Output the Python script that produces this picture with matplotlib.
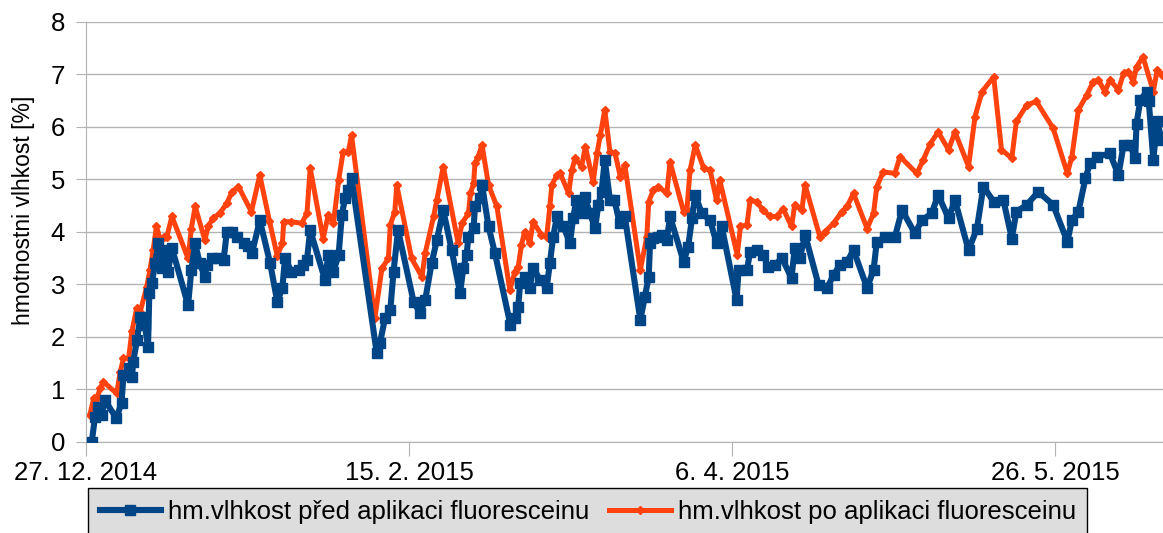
import numpy as np
import matplotlib.pyplot as plt
import matplotlib.dates as mdates
from datetime import datetime

plt.rcParams['font.family'] = ['Liberation Sans', 'DejaVu Sans']

# measurement days counted from 27. 12. 2014
start = datetime(2014, 12, 27)

days_pred = [0.9, 1.4, 1.9, 2.4, 2.9, 4.7, 5.5, 5.8, 6.6, 7.1, 7.3, 7.9, 8.4, 9.1, 9.6, 9.8,
             10.2, 10.7, 11.2, 11.7, 12.2, 12.7, 13.3, 15.8, 16.3, 16.9, 17.6, 18.4, 18.7, 19.5,
             20.5, 21.3, 21.8, 22.6, 23.3, 24.4, 25.1, 25.7, 26.9, 28.5, 29.6, 30.4, 30.8, 31.8,
             32.9, 33.6, 34.2, 34.7, 37.0, 37.5, 38.3, 39.1, 39.6, 40.1, 40.6, 41.1, 45.0, 45.5,
             46.3, 47.1, 47.6, 48.3, 50.7, 51.7, 52.5, 53.5, 54.3, 55.3, 56.6, 57.9, 58.4, 58.9,
             59.2, 60.0, 60.2, 61.0, 61.3, 62.3, 63.3, 65.7, 66.4, 66.9, 67.2, 67.9, 68.7, 69.2,
             70.3, 71.3, 71.8, 72.3, 72.9, 73.9, 74.9, 75.4, 75.9, 76.7, 77.2, 78.0, 78.8, 79.3,
             79.8, 80.3, 81.1, 81.8, 82.6, 83.4, 85.8, 86.5, 87.1, 87.3, 87.8, 88.6, 89.1, 89.9,
             90.4, 92.5, 93.2, 93.8, 94.3, 95.3, 96.6, 97.6, 98.4, 100.7, 101.0, 102.3, 102.8,
             103.8, 104.8, 105.6, 106.7, 107.7, 109.2, 109.7, 110.5, 111.3, 113.4, 114.7, 115.7,
             116.7, 117.8, 118.8, 120.9, 121.9, 122.4, 123.7, 125.2, 126.3, 128.3, 129.4, 130.9,
             131.9, 133.5, 134.5, 136.6, 137.9, 138.9, 140.5, 142.0, 143.3, 144.0, 145.6, 147.4,
             149.7, 151.9, 152.6, 153.6, 154.7, 155.4, 156.5, 158.5, 159.8, 160.6, 161.6, 162.4,
             162.6, 163.2, 164.2, 164.5, 165.2, 165.8, 166.5]
vlh_pred = [0.00, 0.48, 0.67, 0.51, 0.79, 0.45, 0.74, 1.27, 1.40, 1.24, 1.52, 1.94, 2.38, 2.22,
            1.81, 2.83, 3.02, 3.40, 3.78, 3.31, 3.65, 3.24, 3.69, 2.60, 3.27, 3.78, 3.40, 3.14,
            3.37, 3.50, 3.50, 3.46, 4.00, 4.00, 3.90, 3.78, 3.72, 3.59, 4.22, 3.40, 2.67, 2.93,
            3.50, 3.24, 3.27, 3.37, 3.46, 4.03, 3.08, 3.56, 3.24, 3.56, 4.32, 4.64, 4.79, 5.02,
            1.69, 1.88, 2.36, 2.51, 3.24, 4.03, 2.67, 2.45, 2.70, 3.40, 3.84, 4.41, 3.65, 2.83,
            3.31, 3.56, 3.90, 4.07, 4.48, 4.64, 4.89, 4.10, 3.59, 2.22, 2.36, 2.57, 3.02, 3.14,
            2.93, 3.31, 3.08, 2.93, 3.40, 3.90, 4.29, 4.10, 3.78, 4.26, 4.60, 4.35, 4.67, 4.35,
            4.07, 4.51, 4.76, 5.37, 4.60, 4.60, 4.16, 4.29, 2.32, 2.76, 3.14, 3.78, 3.88, 3.90,
            3.94, 3.84, 4.29, 3.43, 3.71, 4.26, 4.70, 4.35, 4.22, 3.78, 4.10, 2.70, 3.27, 3.27,
            3.62, 3.65, 3.56, 3.33, 3.37, 3.50, 3.12, 3.69, 3.50, 3.94, 2.98, 2.93, 3.17, 3.37,
            3.43, 3.65, 2.93, 3.27, 3.81, 3.90, 3.90, 4.41, 3.97, 4.22, 4.35, 4.70, 4.26, 4.60,
            3.65, 4.06, 4.86, 4.57, 4.60, 3.87, 4.38, 4.51, 4.76, 4.51, 3.81, 4.22, 4.38, 5.02,
            5.30, 5.43, 5.49, 5.08, 5.65, 5.65, 5.40, 6.06, 6.51, 6.67, 6.48, 5.37, 6.10, 5.75]

days_po = [0.6, 1.2, 1.7, 2.2, 2.7, 4.75, 5.3, 5.8, 6.6, 7.1, 7.85, 8.4, 9.4, 9.9, 10.4, 10.9,
           11.5, 12.0, 12.5, 13.3, 15.8, 16.3, 16.9, 18.4, 18.9, 19.7, 20.7, 21.8, 22.6, 23.6,
           25.6, 26.9, 28.4, 29.6, 30.4, 30.6, 31.8, 33.4, 34.2, 34.7, 36.7, 37.5, 38.3, 39.1,
           39.8, 40.6, 41.1, 44.7, 45.8, 46.8, 47.1, 47.8, 48.1, 50.4, 52.0, 52.5, 53.8, 54.3,
           55.3, 57.6, 58.2, 59.2, 59.5, 60.0, 60.2, 60.7, 61.3, 62.3, 63.6, 65.6, 66.4, 66.9,
           67.4, 67.9, 68.7, 69.2, 70.5, 71.3, 71.8, 72.1, 72.9, 73.4, 74.7, 75.2, 75.7, 76.7,
           77.3, 78.5, 79.1, 79.6, 80.3, 81.1, 81.9, 82.7, 83.4, 85.8, 86.8, 87.1, 87.8, 88.6,
           89.9, 90.4, 92.5, 93.0, 93.5, 94.3, 95.6, 96.6, 97.6, 98.1, 100.8, 101.3, 102.3,
           102.8, 103.8, 104.8, 105.9, 106.9, 107.9, 109.2, 109.7, 110.8, 111.3, 113.6, 114.4,
           115.7, 117.0, 117.8, 118.8, 120.9, 121.9, 122.4, 123.4, 125.2, 126.0, 128.6, 129.6,
           130.7, 131.9, 133.5, 134.5, 136.6, 137.6, 138.7, 140.5, 141.7, 143.3, 144.0, 145.6,
           147.1, 149.7, 151.9, 152.6, 153.6, 154.9, 155.9, 156.7, 157.7, 158.5, 159.8, 160.6,
           161.3, 162.1, 162.6, 163.6, 165.2, 165.8, 166.5]
vlh_po = [0.51, 0.83, 0.83, 1.02, 1.14, 0.92, 1.33, 1.59, 1.59, 2.10, 2.54, 2.48, 2.95, 3.27,
          3.65, 4.10, 3.84, 3.90, 3.90, 4.29, 3.49, 4.06, 4.48, 3.84, 4.10, 4.26, 4.35, 4.54,
          4.76, 4.86, 4.38, 5.08, 4.20, 3.54, 3.78, 4.19, 4.19, 4.16, 4.35, 5.21, 3.87, 4.32,
          4.16, 4.98, 5.52, 5.52, 5.84, 2.35, 3.30, 3.49, 4.13, 4.38, 4.89, 3.49, 3.14, 3.59,
          4.29, 4.60, 5.24, 3.78, 4.16, 4.35, 4.73, 4.92, 5.30, 5.43, 5.65, 4.89, 4.48, 2.89,
          3.24, 3.33, 3.75, 4.00, 3.78, 4.19, 3.94, 3.90, 4.48, 4.89, 5.08, 5.11, 4.73, 5.17,
          5.40, 5.24, 5.62, 4.95, 5.49, 5.84, 6.32, 5.52, 5.49, 5.05, 5.27, 3.27, 3.90, 4.57,
          4.79, 4.86, 4.73, 5.33, 4.38, 4.41, 5.17, 5.65, 5.21, 5.17, 4.60, 4.98, 3.56, 4.10,
          4.13, 4.60, 4.57, 4.41, 4.29, 4.29, 4.44, 4.10, 4.51, 4.41, 4.89, 3.90, 4.00, 4.16,
          4.38, 4.48, 4.73, 4.06, 4.35, 4.86, 5.14, 5.11, 5.43, 5.11, 5.37, 5.68, 5.90, 5.56,
          5.90, 5.24, 6.19, 6.67, 6.95, 5.56, 5.40, 6.10, 6.41, 6.48, 5.97, 5.11, 5.43, 6.32,
          6.60, 6.86, 6.89, 6.67, 6.89, 6.70, 7.02, 7.05, 6.86, 7.14, 7.33, 6.67, 7.08, 6.98]

tick_dates = ['2014-12-27', '2015-02-15', '2015-04-06', '2015-05-26']
tick_labels = ['27. 12. 2014', '15. 2. 2015', '6. 4. 2015', '26. 5. 2015']

x0 = mdates.date2num(start)
W, H = 1163, 533

fig = plt.figure(figsize=(W / 100, H / 100), dpi=100)
ax = fig.add_axes([86 / W, 1 - 441.7 / H, (W - 86) / W, (441.7 - 21.7) / H])

ax.plot(x0 + np.array(days_pred), vlh_pred, color='#004586', lw=4.4, marker='s', ms=7.5,
        label='hm.vlhkost před aplikaci fluoresceinu', zorder=3)
ax.plot(x0 + np.array(days_po), vlh_po, color='#ff420e', lw=3.6, marker='D', ms=4.5,
        label='hm.vlhkost po aplikaci fluoresceinu', zorder=2)

ax.set_xlim(x0, x0 + 166.7)
ax.set_ylim(0, 8)
ax.set_yticks(range(0, 9))
ax.set_xticks([mdates.date2num(datetime.strptime(d, '%Y-%m-%d')) for d in tick_dates])
ax.set_xticklabels(tick_labels)

ax.grid(axis='y', color='#b3b3b3', lw=1)
ax.set_axisbelow(True)
for side in ['top', 'right']:
    ax.spines[side].set_visible(False)
for side in ['left', 'bottom']:
    ax.spines[side].set_color('#b3b3b3')
ax.tick_params(axis='x', length=10, color='#b3b3b3', labelsize=18.5, pad=4)
ax.tick_params(axis='y', length=7, color='#b3b3b3', labelsize=18.5, pad=8)
ax.set_ylabel('hmotnostni vlhkost [%]', fontsize=16.5)
ax.yaxis.set_label_coords(-0.047, 0.55)

fig.legend(loc='upper left', bbox_to_anchor=(88 / W, 1 - 488 / H), ncol=2,
           frameon=True, fancybox=False, edgecolor='black', facecolor='#dddddd',
           framealpha=1, fontsize=18.5, handlelength=2.4, columnspacing=0.8,
           handletextpad=0.25, borderpad=0.45, borderaxespad=0)

fig.savefig('out.png', dpi=100)
